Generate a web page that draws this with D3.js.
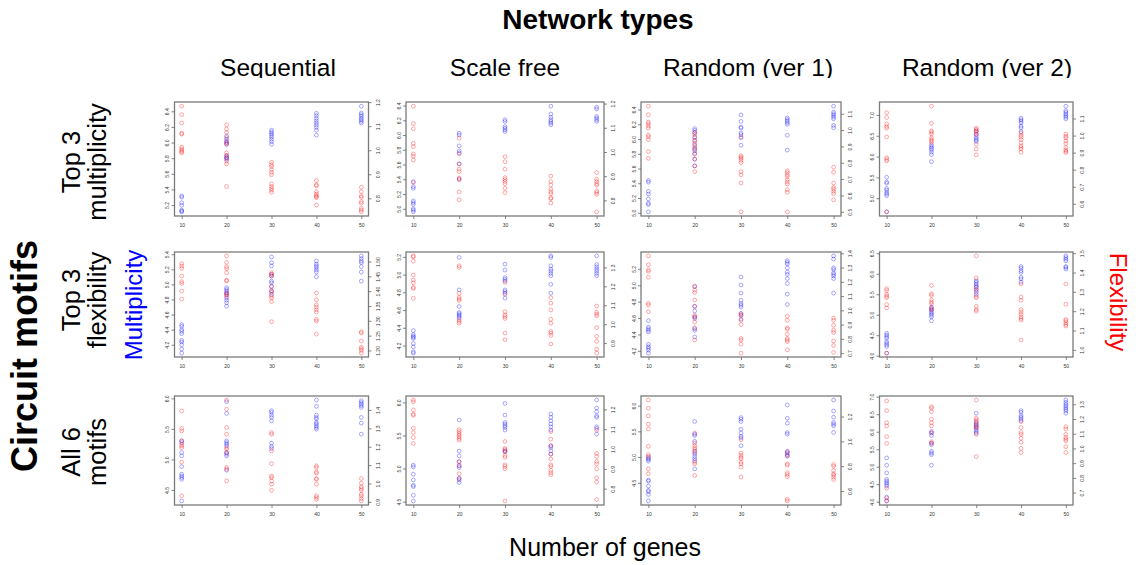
<!DOCTYPE html>
<html><head><meta charset="utf-8">
<script src="https://cdn.jsdelivr.net/npm/d3@7"></script>
<style>body{margin:0;background:#fff}svg{display:block}</style>
</head><body>
<script>
// Column and row headers
const networkTypes = ["Sequential", "Scale free", "Random (ver 1)", "Random (ver 2)"];
const motifSets = [["Top 3", "multiplicity"], ["Top 3", "flexibility"], ["All 6", "motifs"]];
const geneCounts = [10, 20, 30, 40, 50];
const geneTickLabels = ["10", "20", "30", "40", "50"];

// Tick labels of the left (multiplicity) axis, panels in row-major order
const multiplicityTicks = [
  ["5.2","5.4","5.6","5.8","6.0","6.2","6.4"],
  ["5.0","5.2","5.4","5.6","5.8","6.0","6.2","6.4"],
  ["5.0","5.2","5.4","5.6","5.8","6.0","6.2","6.4"],
  ["5.0","5.5","6.0","6.5","7.0"],
  ["4.2","4.4","4.6","4.8","5.0","5.2","5.4"],
  ["4.2","4.4","4.6","4.8","5.0","5.2"],
  ["4.2","4.4","4.6","4.8","5.0","5.2"],
  ["4.0","4.5","5.0","5.5","6.0","6.5"],
  ["4.5","5.0","5.5","6.0"],
  ["4.5","5.0","5.5","6.0"],
  ["4.5","5.0","5.5","6.0"],
  ["4.0","4.5","5.0","5.5","6.0","6.5","7.0"]
];
// Tick labels of the right (flexibility) axis
const flexibilityTicks = [
  ["0.8","0.9","1.0","1.1","1.2"],
  ["0.8","0.9","1.0","1.1","1.2"],
  ["0.5","0.6","0.7","0.8","0.9","1.0","1.1"],
  ["0.6","0.7","0.8","0.9","1.0","1.1"],
  ["1.20","1.25","1.30","1.35","1.40","1.45","1.50"],
  ["0.9","1.0","1.1","1.2","1.3"],
  ["0.7","0.8","0.9","1.0","1.1","1.2","1.3","1.4"],
  ["1.0","1.1","1.2","1.3","1.4","1.5"],
  ["0.9","1.0","1.1","1.2","1.3","1.4"],
  ["0.8","0.9","1.0","1.1","1.2"],
  ["0.6","0.8","1.0","1.2"],
  ["0.7","0.8","0.9","1.0","1.1","1.2","1.3"]
];

// Multiplicity per panel, one list per gene count (10..50)
const multiplicity = [
  [[5.317,5.300,5.230,5.196,5.135,5.122,5.114],[6.085,6.042,6.020,5.999,5.977,5.835,5.813,5.800,5.783],[6.158,6.137,6.115,6.094,6.072,6.042,6.012,5.977],[6.374,6.344,6.309,6.279,6.249,6.223,6.193,6.158,6.094],[6.465,6.378,6.357,6.335,6.309,6.292,6.270,6.249]],
  [[5.367,5.299,5.276,5.106,5.083,5.060,5.000,4.982,4.959],[6.024,6.001,5.854,5.785,5.758,5.611,5.404],[6.207,6.184,6.115,6.093,6.070,6.047],[6.391,6.285,6.239,6.207,6.184,6.161,6.138],[6.377,6.354,6.253,6.230,6.207,6.184]],
  [[5.438,5.416,5.291,5.255,5.188,5.130,5.112,5.014],[6.141,6.118,6.087,6.029,5.984,5.917,5.872,5.841,5.805,5.725,5.635],[6.328,6.239,6.163,6.150,6.082,6.060,6.015,5.917],[6.288,6.266,6.243,6.221,6.199,6.051,5.850],[6.445,6.364,6.342,6.320,6.297,6.275,6.185,6.154]],
  [[5.504,5.388,5.357,5.233,5.194,5.140,5.101,5.062,4.674],[6.279,6.240,6.202,6.163,6.109,6.047,5.876],[6.612,6.535,6.481,6.434,6.395,6.364],[6.922,6.884,6.845,6.806,6.729,6.690,6.597],[7.209,7.101,7.062,7.023,6.984,6.946,6.907]],
  [[4.467,4.444,4.400,4.378,4.347,4.258,4.236,4.200,4.142,4.089],[4.956,4.933,4.911,4.889,4.867,4.822,4.791,4.756,4.711],[5.364,5.289,5.244,5.133,5.111,5.044,5.022,4.969,4.911,4.867],[5.311,5.267,5.244,5.222,5.191,5.164,5.102],[5.378,5.342,5.311,5.289,5.236,5.164,5.044]],
  [[4.368,4.323,4.304,4.293,4.278,4.222,4.185,4.129,4.114],[5.193,4.827,4.640,4.573,4.558,4.543,4.528,4.510],[5.118,5.051,4.965,4.946,4.928,4.827,4.808,4.790,4.734],[5.211,5.193,5.099,5.062,5.040,5.013,4.987,4.890,4.790],[5.211,5.114,5.088,5.062,5.040,5.013,4.987]],
  [[4.568,4.489,4.469,4.449,4.430,4.279,4.251,4.232,4.208,4.172],[4.983,4.745,4.686,4.615,4.595,4.469,4.449,4.370],[5.101,5.002,4.904,4.817,4.777,4.757,4.734,4.658,4.635,4.587],[5.299,5.279,5.259,5.212,5.160,5.133,5.081,5.022,4.892,4.765],[5.358,5.318,5.212,5.192,5.153,5.133,5.113,5.081,4.904]],
  [[4.547,4.506,4.466,4.426,4.346,4.305,4.265,4.225,4.064],[5.190,5.150,5.109,5.069,5.029,4.989,4.949,4.852],[5.833,5.793,5.752,5.712,5.672,5.616,5.551,5.495],[6.178,6.138,6.074,6.034,5.913,5.873,5.793],[6.436,6.395,6.355,6.315,6.178,6.154,6.114]],
  [[5.305,5.277,5.113,5.059,4.883,4.758,4.730,4.703,4.675,4.320],[5.945,5.754,5.305,5.277,5.250,5.223,5.113,5.086,5.059,4.823],[5.797,5.770,5.726,5.688,5.633,5.267,5.212,5.179],[5.973,5.869,5.726,5.688,5.661,5.606,5.579,5.551,5.524,5.496],[5.962,5.934,5.907,5.880,5.852,5.688,5.595,5.414]],
  [[5.051,5.025,4.914,4.828,4.747,4.727,4.596,4.510],[5.732,5.263,5.192,5.101,5.040,5.015,4.854,4.828,4.788],[5.985,5.808,5.697,5.672,5.646,5.621,5.581,5.268,5.253],[5.823,5.773,5.722,5.672,5.631,5.581,5.343,5.318,5.268,5.217],[6.035,5.914,5.859,5.798,5.773,5.631,5.606,5.520]],
  [[4.996,4.970,4.950,4.918,4.551,4.532,4.435,4.352,4.326,4.274,4.146],[5.691,5.446,5.420,5.305,5.111,5.060,5.015,4.970,4.931,4.770],[5.768,5.736,5.691,5.543,5.466,5.401,5.369,5.221],[6.013,5.755,5.659,5.478,5.446,5.111,5.079,5.047,5.015],[6.109,5.897,5.775,5.672,5.639,5.607,5.478]],
  [[5.250,5.042,4.824,4.635,4.587,4.540,4.493,4.445,4.133,4.020],[6.007,5.959,5.893,5.675,5.628,5.439,5.392,5.344,5.042],[6.527,6.262,6.215,6.167,6.120,6.054,6.007,5.959],[6.603,6.556,6.461,6.414,6.366,6.319],[6.905,6.839,6.782,6.735,6.688,6.641,6.593,6.527]]
];

// Flexibility per panel, one list per gene count (10..50)
const flexibility = [
  [[1.183,1.148,1.113,1.071,1.067,1.013,1.006,0.999,0.994,0.989],[1.106,1.088,1.074,1.053,1.032,1.025,0.989,0.978,0.968,0.954,0.943,0.849],[0.950,0.940,0.933,0.919,0.908,0.898,0.860,0.849,0.841,0.834,0.825],[0.874,0.856,0.852,0.828,0.818,0.811,0.807,0.803,0.772],[0.846,0.828,0.810,0.804,0.786,0.779,0.758,0.751,0.744]],
  [[1.189,1.117,1.096,1.036,1.022,0.992,0.983,0.967,0.874],[1.057,0.992,0.950,0.929,0.919,0.892,0.885,0.835,0.803],[0.981,0.960,0.929,0.894,0.886,0.878,0.869,0.850,0.832],[0.901,0.878,0.864,0.846,0.836,0.828,0.811,0.807,0.789],[0.915,0.888,0.878,0.869,0.863,0.839,0.832,0.825,0.753]],
  [[1.146,1.094,1.049,1.039,1.025,1.013,0.969,0.959,0.942,0.868,0.827],[0.985,0.973,0.953,0.932,0.918,0.898,0.882,0.852,0.823,0.781,0.746],[0.959,0.843,0.835,0.827,0.815,0.801,0.746,0.726,0.676,0.500],[0.751,0.740,0.726,0.716,0.696,0.682,0.670,0.635,0.619,0.500],[0.773,0.742,0.676,0.649,0.639,0.625,0.611,0.573]],
  [[1.134,1.106,1.068,1.053,1.043,0.992,0.870,0.860,0.851,0.553],[1.172,1.072,1.028,1.019,1.009,0.987,0.977,0.968,0.958],[1.043,1.036,1.028,1.019,1.006,0.949,0.921,0.887],[1.015,1.002,0.991,0.977,0.958,0.940,0.930,0.921,0.902],[1.009,0.996,0.987,0.968,0.953,0.930,0.915,0.908,0.900]],
  [[1.493,1.485,1.477,1.451,1.432,1.426,1.400,1.373],[1.519,1.497,1.482,1.476,1.462,1.437,1.434,1.394,1.388,1.383],[1.462,1.457,1.451,1.417,1.402,1.396,1.383,1.377,1.365,1.297],[1.394,1.371,1.354,1.346,1.337,1.329,1.305,1.299,1.255],[1.263,1.259,1.232,1.211,1.206,1.200,1.191]],
  [[1.361,1.356,1.333,1.260,1.233,1.219,1.195,1.189,1.137],[1.309,1.300,1.163,1.142,1.133,1.125,1.023,1.014,1.005],[1.221,1.158,1.067,1.049,1.040,1.030,0.953,0.918],[1.140,1.111,1.075,1.026,1.005,0.961,0.953,0.940,0.895],[1.096,1.063,1.053,1.044,0.982,0.935,0.909,0.868,0.847]],
  [[1.382,1.320,1.285,1.274,1.232,1.049,1.037,0.991],[1.170,1.143,1.125,1.072,1.026,0.964,0.952,0.918,0.877,0.792],[0.975,0.964,0.930,0.900,0.803,0.792,0.762,0.700],[0.959,0.930,0.877,0.868,0.833,0.803,0.792,0.780,0.723],[0.946,0.930,0.895,0.861,0.845,0.785,0.753,0.705]],
  [[1.316,1.307,1.287,1.278,1.270,1.234,1.217,0.983],[1.333,1.290,1.282,1.259,1.247,1.239,1.217,1.208],[1.486,1.372,1.324,1.307,1.276,1.270,1.225,1.208,1.200],[1.341,1.273,1.256,1.208,1.196,1.184,1.171,1.162,1.154,1.051],[1.341,1.236,1.157,1.150,1.140,1.131,1.123]],
  [[1.395,1.299,1.286,1.232,1.213,1.204,1.195,1.117,0.933],[1.454,1.404,1.304,1.268,1.195,1.186,1.168,1.087,1.078,1.014],[1.277,1.268,1.177,1.108,1.041,1.032,1.014,0.996,0.963],[1.096,1.087,1.063,1.056,1.027,1.023,0.996,0.933,0.924,0.914],[1.027,1.001,0.982,0.972,0.963,0.942,0.933,0.918,0.905]],
  [[1.247,1.238,1.197,1.175,1.170,1.105,1.083,1.058,1.028],[1.097,1.088,1.078,1.070,1.062,1.053,1.045,0.937,0.917,0.875,0.850],[1.038,1.003,0.997,0.988,0.967,0.958,0.920,0.912,0.900,0.738],[1.088,1.050,1.017,0.975,0.950,0.920,0.912,0.892,0.880,0.870],[1.095,0.978,0.962,0.937,0.925,0.900,0.855,0.833,0.745]],
  [[1.333,1.267,1.205,1.139,1.101,0.960,0.893,0.880,0.779,0.739],[1.067,0.987,0.965,0.947,0.933,0.912,0.832,0.819,0.725],[1.013,0.907,0.888,0.872,0.861,0.832,0.819,0.792,0.712],[0.915,0.885,0.819,0.808,0.747,0.733,0.715,0.533,0.520],[0.813,0.800,0.765,0.739,0.728,0.712,0.693]],
  [[1.323,1.257,1.175,1.153,1.080,1.035,0.729,0.662,0.643],[1.284,1.273,1.250,1.198,1.175,1.153,1.108,1.046,1.035],[1.329,1.205,1.194,1.182,1.160,1.148,1.137,1.096,0.945],[1.182,1.142,1.108,1.096,1.069,1.042,1.001,0.972],[1.148,1.132,1.096,1.074,1.062,1.051,1.012,0.972]]
];

// ---- layout ----
const W = 1142, H = 565;
const colBox = [[174.5, 368.5], [406, 604], [641, 841], [879.5, 1073]];
const rowBox = [[102, 216], [252, 357], [396, 505]];
const FONT = "Liberation Sans, Arial, Helvetica, sans-serif";
const BLUE = "rgba(0,0,255,0.42)", RED = "rgba(255,0,0,0.42)";

const svg = d3.select("body").append("svg").attr("width", W).attr("height", H)
  .style("font-family", FONT);

// R-style axis range: data extent widened by 4% on each side
const padded = ([a, b]) => [a - 0.04 * (b - a), b + 0.04 * (b - a)];

multiplicity.forEach((mult, i) => {
  const r = Math.floor(i / 4), c = i % 4;
  const [x0, x1] = colBox[c], [y0, y1] = rowBox[r];
  const flex = flexibility[i];
  const x = d3.scaleLinear().domain(padded(d3.extent(geneCounts))).range([x0, x1]);
  const yL = d3.scaleLinear().domain(padded(d3.extent(mult.flat()))).range([y1, y0]);
  const yR = d3.scaleLinear().domain(padded(d3.extent(flex.flat()))).range([y1, y0]);
  const g = svg.append("g");

  // points
  const pts = (vals, scale, col) => g.append("g").selectAll("circle")
    .data(vals.flatMap((list, k) => list.map(v => [geneCounts[k], v])))
    .join("circle")
    .attr("cx", d => x(d[0])).attr("cy", d => scale(d[1])).attr("r", 1.9)
    .attr("fill", "none").attr("stroke", col).attr("stroke-width", 0.8);
  pts(mult, yL, BLUE);
  pts(flex, yR, RED);

  // plot box
  g.append("rect").attr("x", x0).attr("y", y0).attr("width", x1 - x0).attr("height", y1 - y0)
    .attr("fill", "none").attr("stroke", "#7a7a7a").attr("stroke-width", 1.3);

  const styleAxis = (ax) => {
    ax.select(".domain").remove();
    ax.selectAll(".tick line").attr("stroke", "#666").attr("stroke-width", 0.8);
    ax.selectAll(".tick text").attr("fill", "#333").style("font-size", "5px").style("font-family", FONT);
  };

  const lt = multiplicityTicks[i];
  const axL = g.append("g").attr("transform", `translate(${x0},0)`)
    .call(d3.axisLeft(yL).tickValues(lt.map(Number)).tickFormat((d, k) => lt[k]).tickSize(3).tickSizeOuter(0));
  styleAxis(axL);
  axL.selectAll(".tick text").attr("x", null).attr("dy", null)
    .attr("text-anchor", "middle").attr("transform", "translate(-5.5,0) rotate(-90)");

  const rt = flexibilityTicks[i];
  const axR = g.append("g").attr("transform", `translate(${x1},0)`)
    .call(d3.axisRight(yR).tickValues(rt.map(Number)).tickFormat((d, k) => rt[k]).tickSize(3).tickSizeOuter(0));
  styleAxis(axR);
  axR.selectAll(".tick text").attr("x", null).attr("dy", null)
    .attr("text-anchor", "middle").attr("transform", "translate(11,0) rotate(-90)");

  const axB = g.append("g").attr("transform", `translate(0,${y1})`)
    .call(d3.axisBottom(x).tickValues(geneCounts).tickFormat((d, k) => geneTickLabels[k]).tickSize(3).tickSizeOuter(0));
  styleAxis(axB);
  axB.selectAll(".tick text").attr("y", 11).attr("dy", null);
});

// ---- titles ----
svg.append("text").attr("x", 598).attr("y", 29).attr("text-anchor", "middle")
  .style("font-size", "28px").style("font-weight", "bold").text("Network types");

svg.append("clipPath").attr("id", "titleClip").append("rect")
  .attr("x", 0).attr("y", 0).attr("width", W).attr("height", 78);
const colCenters = [278, 505, 748, 987];
svg.append("g").attr("clip-path", "url(#titleClip)").selectAll("text")
  .data(networkTypes).join("text")
  .attr("x", (d, k) => colCenters[k]).attr("y", 76).attr("text-anchor", "middle")
  .style("font-size", "24.5px").text(d => d);

const rowCenters = [162, 300, 452];
motifSets.forEach((lines, k) => {
  lines.forEach((t, j) => {
    svg.append("text").attr("transform", `translate(${80 + j * 26},${rowCenters[k]}) rotate(-90)`)
      .attr("text-anchor", "middle").style("font-size", "25.5px").text(t);
  });
});

svg.append("text").attr("transform", "translate(142,305) rotate(-90)").attr("text-anchor", "middle")
  .style("font-size", "24px").attr("fill", "#0000ff").text("Multiplicity");
svg.append("text").attr("transform", "translate(1110,302) rotate(90)").attr("text-anchor", "middle")
  .style("font-size", "24px").attr("fill", "#ff0000").text("Flexibility");
svg.append("text").attr("transform", "translate(37,356) rotate(-90)").attr("text-anchor", "middle")
  .style("font-size", "36px").style("font-weight", "bold").text("Circuit motifs");
svg.append("text").attr("x", 605).attr("y", 556).attr("text-anchor", "middle")
  .style("font-size", "25px").text("Number of genes");
</script>
</body></html>
